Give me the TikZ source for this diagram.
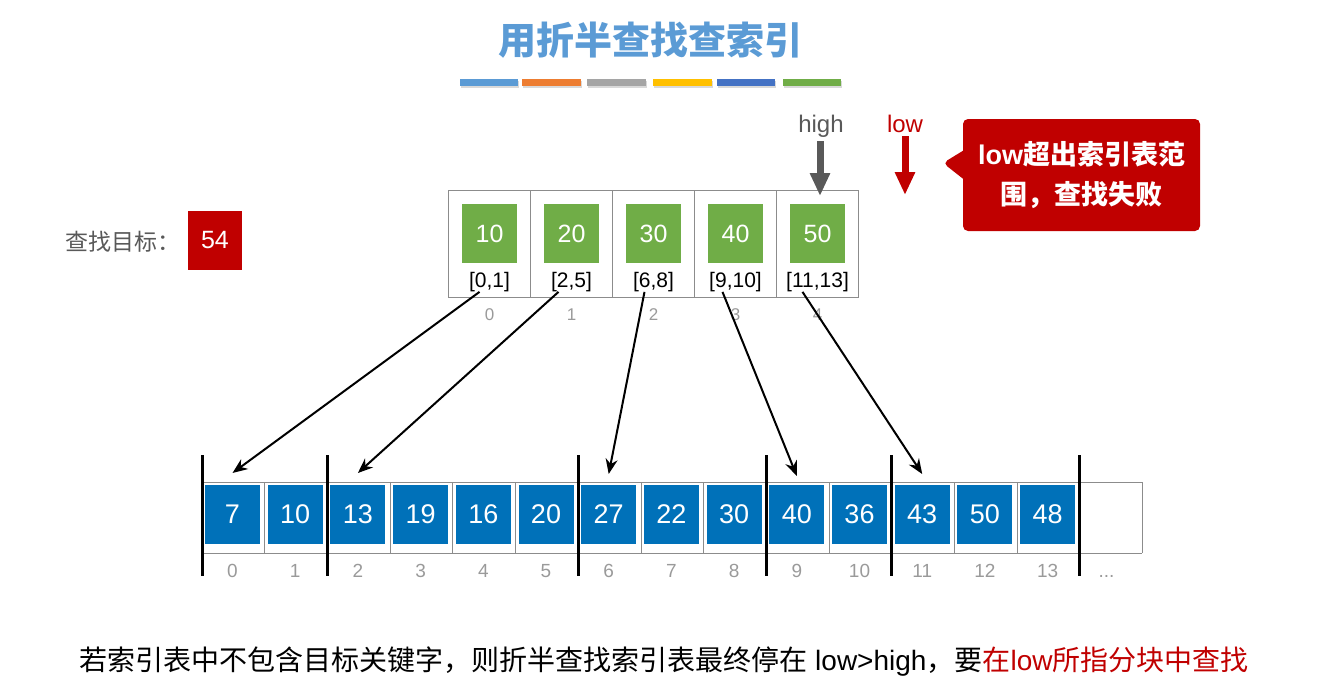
\documentclass[tikz,border=0pt]{standalone}
\usepackage{fontspec}
\setmainfont{Liberation Sans}
\newfontfamily\cjk{Noto Sans CJK SC}
\usetikzlibrary{positioning, arrows.meta, shapes.callouts, shadows}
\definecolor{titleblue}{HTML}{5B9BD5}
\definecolor{barorange}{HTML}{ED7D31}
\definecolor{bargray}{HTML}{A5A5A5}
\definecolor{baryellow}{HTML}{FFC000}
\definecolor{bardeep}{HTML}{4472C4}
\definecolor{keygreen}{HTML}{70AD47}
\definecolor{keyblue}{HTML}{0071B9}
\definecolor{keyred}{HTML}{C00000}
\definecolor{textgray}{HTML}{595959}
\definecolor{numgray}{HTML}{9A9A9A}
\definecolor{linegray}{HTML}{8C8C8C}
\newcommand\fsz[1]{\fontsize{#1}{#1}\selectfont}
\tikzset{
bar/.style={drop shadow={shadow xshift=0.5pt, shadow yshift=-2pt, opacity=.3}}, % colour strips under the title
grid/.style={draw=linegray, line width=0.8pt}, % thin table lines
key/.style={fill=keygreen, text=white, minimum width=55pt, minimum height=59pt, inner sep=0pt, outer sep=0pt, font=\fsz{25}}, % index table entries
blk/.style={fill=keyblue, text=white, minimum width=55pt, minimum height=59pt, inner sep=0pt, outer sep=0pt, font=\fsz{27}}, % block elements
rng/.style={inner sep=0pt, text height=15pt, text depth=4.5pt, font=\fsz{21}}, % block ranges
inum/.style={text=numgray, inner sep=0pt, text height=12pt, text depth=0pt, font=\fsz{17}},
bnum/.style={text=numgray, inner sep=0pt, text height=14pt, text depth=0pt, font=\fsz{19}},
sep/.style={line width=3pt}, % block borders
link/.style={->, >={Stealth[length=15pt, width=12pt]}, line width=2pt}, % index entry -> block
fat/.style={line width=7pt, -{Triangle[length=23pt, width=19pt]}}, % high / low pointers
}

\begin{document}
\begin{tikzpicture}[x=1pt, y=-1pt]
\useasboundingbox (0,0) rectangle (1317,685);

% title
\node[font=\cjk\bfseries\fsz{38}, text=titleblue] (title) at (650,40) {用折半查找查索引};
\fill[bar, titleblue] (460,79) rectangle (518,86);
\fill[bar, barorange] (522,79) rectangle (581,86);
\fill[bar, bargray] (587,79) rectangle (646,86);
\fill[bar, baryellow] (653,79) rectangle (712,86);
\fill[bar, bardeep] (717,79) rectangle (775,86);
\fill[bar, keygreen] (783,79) rectangle (841,86);

% search target
\node[font=\cjk\fsz{23}, text=textgray, anchor=west] (goal) at (62,242) {查找目标：};
\node[fill=keyred, text=white, minimum width=54pt, minimum height=59pt, inner sep=0pt, font=\fsz{25}] (tgt) at (215,240.5) {54};

% index table
\draw[grid] (448,190) rectangle (858,297);
\draw[grid] (530,190) -- (530,297) (612,190) -- (612,297) (694,190) -- (694,297) (776,190) -- (776,297);
\node[key] (g0) at (489.5,233.5) {10};
\node[key, right=27pt of g0] (g1) {20};
\node[key, right=27pt of g1] (g2) {30};
\node[key, right=27pt of g2] (g3) {40};
\node[key, right=27pt of g3] (g4) {50};
\node[rng, below=9pt of g0] (r0) {[0,1]};
\node[rng, below=9pt of g1] (r1) {[2,5]};
\node[rng, below=9pt of g2] (r2) {[6,8]};
\node[rng, below=9pt of g3] (r3) {[9,10]};
\node[rng, below=9pt of g4] (r4) {[11,13]};
\node[inum, below=16pt of r0] (i0) {0};
\node[inum, below=16pt of r1] (i1) {1};
\node[inum, below=16pt of r2] (i2) {2};
\node[inum, below=16pt of r3] (i3) {3};
\node[inum, below=16pt of r4] (i4) {4};

% high and low
\node[font=\fsz{24}, text=textgray, anchor=base, inner sep=0pt] (hi) at (821,132) {high};
\node[font=\fsz{24}, text=keyred, anchor=base, inner sep=0pt] (lo) at (905,132) {low};
\coordinate (hitip) at (820,196);
\coordinate (lotip) at (905,195);
\draw[fat, textgray, shorten <=4pt] (hi.south -| hitip) -- (hitip);
\draw[fat, keyred, shorten <=4pt] (lo.south -| lotip) -- (lotip);

% message
\node[rectangle callout, fill=keyred, rounded corners=5pt, minimum width=237pt, minimum height=112pt,
      callout absolute pointer={(943,163)}, callout pointer width=28pt,
      text=white, align=center, font=\bfseries\fontsize{27}{40}\selectfont] (msg) at (1081.5,175)
      {low{\cjk 超出索引表范}\\{\cjk 围，查找失败}};

% blocks
\draw[grid] (202,482) -- (1142,482) (202,553) -- (1142,553) (1142,482) -- (1142,553);
\foreach \x in {264.7,327.4,390.1,452.8,515.5,578.2,640.9,703.6,766.3,829,891.7,954.4,1017.1,1079.8}
  \draw[grid] (\x,482) -- (\x,553);
\node[blk] (b0) at (232.5,514.5) {7};
\node[blk, right=7.7pt of b0] (b1) {10};
\node[blk, right=7.7pt of b1] (b2) {13};
\node[blk, right=7.7pt of b2] (b3) {19};
\node[blk, right=7.7pt of b3] (b4) {16};
\node[blk, right=7.7pt of b4] (b5) {20};
\node[blk, right=7.7pt of b5] (b6) {27};
\node[blk, right=7.7pt of b6] (b7) {22};
\node[blk, right=7.7pt of b7] (b8) {30};
\node[blk, right=7.7pt of b8] (b9) {40};
\node[blk, right=7.7pt of b9] (b10) {36};
\node[blk, right=7.7pt of b10] (b11) {43};
\node[blk, right=7.7pt of b11] (b12) {50};
\node[blk, right=7.7pt of b12] (b13) {48};
\node[bnum, below=19pt of b0] (n0) {0};
\node[bnum, below=19pt of b1] (n1) {1};
\node[bnum, below=19pt of b2] (n2) {2};
\node[bnum, below=19pt of b3] (n3) {3};
\node[bnum, below=19pt of b4] (n4) {4};
\node[bnum, below=19pt of b5] (n5) {5};
\node[bnum, below=19pt of b6] (n6) {6};
\node[bnum, below=19pt of b7] (n7) {7};
\node[bnum, below=19pt of b8] (n8) {8};
\node[bnum, below=19pt of b9] (n9) {9};
\node[bnum, below=19pt of b10] (n10) {10};
\node[bnum, below=19pt of b11] (n11) {11};
\node[bnum, below=19pt of b12] (n12) {12};
\node[bnum, below=19pt of b13] (n13) {13};
\node[bnum, right=40pt of n13] (more) {...};
\draw[sep] (202,455) -- (202,576) (327.4,455) -- (327.4,576) (578.2,455) -- (578.2,576)
           (766.3,455) -- (766.3,576) (891.7,455) -- (891.7,576) (1079.8,455) -- (1079.8,576);

% index entries point to their blocks
\draw[link] ([xshift=-10pt]r0.south) -- ([yshift=12pt]b0.north);
\draw[link] ([xshift=-13pt]r1.south) -- ([yshift=12pt]b2.north);
\draw[link] ([xshift=-9pt]r2.south) -- ([yshift=11pt]b6.north);
\draw[link] ([xshift=-13pt]r3.south) -- ([yshift=9pt]b9.north);
\draw[link] ([xshift=-15pt]r4.south) -- ([yshift=11pt]b11.north);

% note
\node[font=\fsz{28}] (note) at (664,662) {{\cjk 若索引表中不包含目标关键字，则折半查找索引表最终停在} low>high{\cjk ，要}\textcolor{keyred}{{\cjk 在}low{\cjk 所指分块中查找}}};
\end{tikzpicture}
\end{document}
